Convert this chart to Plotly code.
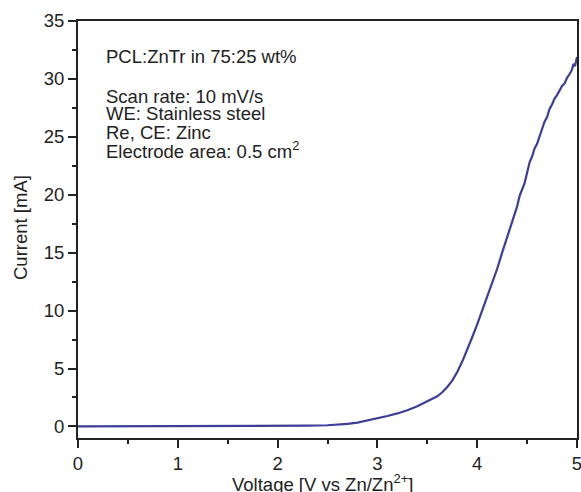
import plotly.graph_objects as go

voltage = [0.0, 0.5, 1.0, 1.5, 2.0, 2.3, 2.5, 2.6, 2.7, 2.8, 2.9, 3.0, 3.1, 3.2, 3.3,
           3.4, 3.5, 3.6, 3.65, 3.7, 3.75, 3.8, 3.85, 3.9, 3.95, 4.0, 4.05, 4.1, 4.15,
           4.2, 4.25, 4.3, 4.35, 4.4, 4.425, 4.45, 4.475, 4.5, 4.525, 4.55, 4.575, 4.6,
           4.625, 4.65, 4.675, 4.7, 4.725, 4.75, 4.775, 4.8, 4.825, 4.85, 4.875, 4.9,
           4.925, 4.95, 4.965, 4.98, 5.0]
current = [0.0, 0.0, 0.01, 0.02, 0.04, 0.06, 0.1, 0.15, 0.22, 0.33, 0.5, 0.7, 0.9, 1.12, 1.4,
           1.75, 2.15, 2.6, 2.95, 3.4, 3.95, 4.7, 5.6, 6.6, 7.7, 8.8, 10.0, 11.1, 12.3,
           13.6, 15.0, 16.3, 17.6, 19.0, 19.9, 20.5, 21.0, 21.9, 22.8, 23.3, 24.0, 24.4,
           25.1, 25.6, 26.3, 26.7, 27.4, 27.8, 28.3, 28.6, 29.0, 29.4, 29.6, 30.1,
           30.4, 30.8, 31.3, 31.1, 31.9]

x_ticks = [0, 1, 2, 3, 4, 5]
y_ticks = [0, 5, 10, 15, 20, 25, 30, 35]

x_title = "Voltage [V vs Zn/Zn<sup>2+</sup>]"
y_title = "Current [mA]"
info_lines = ["PCL:ZnTr in 75:25 wt%", "Scan rate: 10 mV/s", "WE: Stainless steel",
              "Re, CE: Zinc", "Electrode area: 0.5 cm<sup>2</sup>"]
info_y_px = [56, 96, 114, 132, 150]

W, H = 581, 492
ML, MR, MT, MB = 78, 4, 21, 54
PW, PH = W - ML - MR, H - MT - MB
FONT = "Liberation Sans, Arial, Helvetica, sans-serif"
INK = "#222222"
FS = 18.5


def px_x(px):
    return (px - ML) / PW


def px_y(py):
    return 1 - (py - MT) / PH


fig = go.Figure()
fig.add_trace(go.Scatter(x=voltage, y=current, mode="lines",
                         line=dict(color="#3b3f98", width=2.2), showlegend=False))

axis_common = dict(
    showgrid=False, zeroline=False, showline=True, linecolor=INK, linewidth=2,
    mirror=True, ticks="outside", ticklen=8, tickwidth=1.5, tickcolor=INK,
    tickfont=dict(family=FONT, size=FS, color=INK), automargin=False,
    ticklabeloverflow="allow",
    minor=dict(ticks="outside", ticklen=4, tickwidth=1.5, tickcolor=INK),
)

fig.update_xaxes(range=[0, 5], tickvals=x_ticks, minor_dtick=0.5, **axis_common)
fig.update_yaxes(range=[-1, 35], tickvals=y_ticks, minor_dtick=2.5, **axis_common)

fig.add_annotation(text=x_title, xref="paper", yref="paper", x=px_x(322), y=px_y(483),
                   xanchor="center", yanchor="middle", showarrow=False,
                   font=dict(family=FONT, size=FS, color=INK))
fig.add_annotation(text=y_title, xref="paper", yref="paper", x=px_x(20), y=px_y(228),
                   xanchor="center", yanchor="middle", showarrow=False, textangle=-90,
                   font=dict(family=FONT, size=FS, color=INK))

for txt, ypx in zip(info_lines, info_y_px):
    fig.add_annotation(text=txt, xref="paper", yref="paper",
                       x=px_x(104), y=px_y(ypx),
                       xanchor="left", yanchor="middle", showarrow=False,
                       font=dict(family=FONT, size=FS, color=INK))

fig.update_layout(width=W, height=H, margin=dict(l=ML, r=MR, t=MT, b=MB),
                  plot_bgcolor="white", paper_bgcolor="white",
                  font=dict(family=FONT, color=INK))

fig.write_html("out.html", config={"displayModeBar": False},
               post_script="document.body.style.margin='0';document.body.style.padding='0';")
